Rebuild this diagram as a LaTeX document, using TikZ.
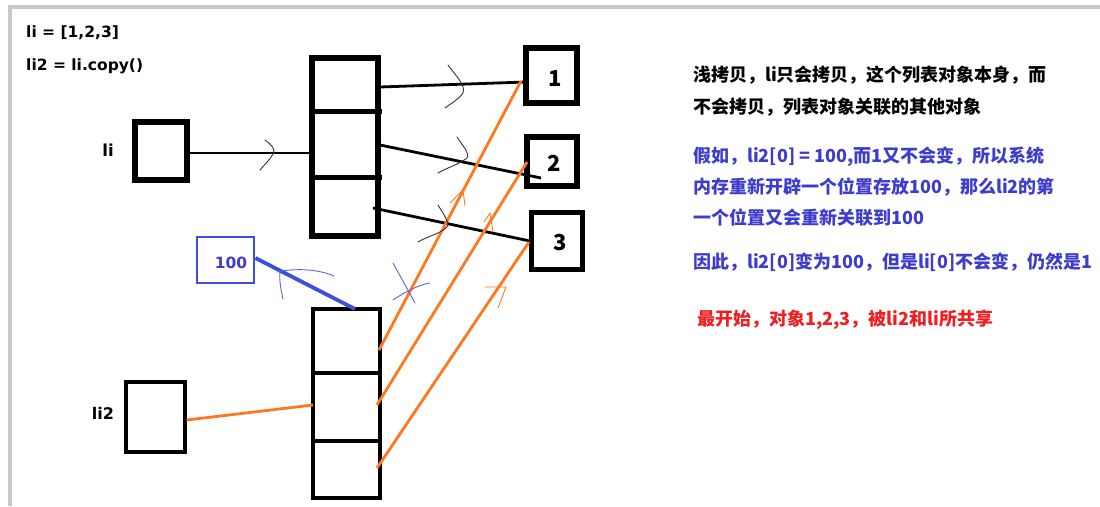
\documentclass[tikz,border=0pt]{standalone}
\usepackage{fontspec}
\setmainfont{Noto Sans CJK SC}
\newfontfamily\latinfont{DejaVu Sans}
\definecolor{frameg}{RGB}{200,200,200}
\definecolor{myblue}{RGB}{60,60,205}
\definecolor{boxblue}{RGB}{60,80,220}
\definecolor{markblue}{RGB}{90,100,230}
\definecolor{myorange}{RGB}{255,120,30}
\definecolor{myred}{RGB}{240,30,30}
\tikzset{
  thickbox/.style={draw=black,line width=5.5pt,inner sep=0pt},
  thinbox/.style={draw=black,line width=3.2pt,inner sep=0pt},
  conn/.style={draw=black,line width=2.8pt},
  oconn/.style={draw=myorange,line width=2.8pt},
  hmark/.style={line width=0.9pt,line cap=round,line join=round},
  txt/.style={font=\bfseries,inner sep=0pt},
  rtxt/.style={inner sep=0pt,anchor=west,font=\bfseries\fontsize{18}{20}\selectfont},
}
\begin{document}
\begin{tikzpicture}[x=1pt,y=-1pt]
\useasboundingbox (0,0) rectangle (1100,506);
% frame
\fill[frameg] (8,5) rectangle (1100,9);
\fill[frameg] (8,5) rectangle (12,506);
% code text
\node[inner sep=0pt,anchor=west,font=\latinfont\bfseries\fontsize{15.5}{17}\selectfont] (code1) at (26,33) {li = [1,2,3]};
\node[inner sep=0pt,anchor=west,font=\latinfont\bfseries\fontsize{15.5}{17}\selectfont] (code2) at (26,66) {li2 = li.copy()};
% li
\node[inner sep=0pt,font=\latinfont\bfseries\fontsize{16.5}{18}\selectfont] (lilab) at (108,150) {li};
\node[thickbox,minimum width=52pt,minimum height=58pt] (libox) at (161,151) {};
% list 1
\node[thickbox,minimum width=66pt,minimum height=178pt] (list1) at (345,147) {};
\draw[line width=5pt] (309,111) -- (382,111);
\draw[line width=5pt] (309,177) -- (382,177);
% objects
\node[thickbox,minimum width=51pt,minimum height=55pt] (o1) at (551.5,75.5) {};
\node[thickbox,minimum width=50pt,minimum height=49pt] (o2) at (552,161.5) {};
\node[thickbox,minimum width=51pt,minimum height=57pt] (o3) at (557,241) {};
\node[txt,font=\bfseries\fontsize{22}{24}\selectfont] (n1) at (555,79) {1};
\node[txt,font=\bfseries\fontsize{22}{24}\selectfont] (n2) at (554,163) {2};
\node[txt,font=\bfseries\fontsize{22}{24}\selectfont] (n3) at (560,243) {3};
% li2
\node[inner sep=0pt,font=\latinfont\bfseries\fontsize{16}{18}\selectfont] (li2lab) at (103,413) {li2};
\node[thinbox,minimum width=59pt,minimum height=70pt] (li2box) at (155.5,417) {};
\node[thinbox,minimum width=67pt,minimum height=189pt] (list2) at (346.5,403.5) {};
\draw[line width=3.2pt] (313,373) -- (382,373);
\draw[line width=3.2pt] (313,441) -- (380,441);
% 100
\node[draw=boxblue,line width=2.8pt,minimum width=57pt,minimum height=46pt,inner sep=0pt] (hbox) at (225.5,260) {};
\node[inner sep=0pt,text=myblue,font=\latinfont\bfseries\fontsize{15.5}{17}\selectfont] (hlab) at (231,263) {100};
% coordinates for connector ends
\coordinate (a1) at (380,87);
\coordinate (a2) at (380,145);
\coordinate (a3) at (373,208);
\coordinate (e1) at (526,82);
\coordinate (e2) at (541,178);
\coordinate (e3) at (530,241);
\coordinate (b1) at (379,350);
\coordinate (b2) at (377,405);
\coordinate (b3) at (377,468);
\coordinate (f1) at (521,81);
\coordinate (f2) at (527,162);
\coordinate (f3) at (529,242);
% black connectors
\draw[conn] ([yshift=-2pt]libox.east) -- ([yshift=-2pt]libox.east -| list1.west);
\draw[conn] (a1) -- (e1);
\draw[conn] (a2) -- (e2);
\draw[conn] (a3) -- (e3);
% blue connector
\draw[draw=boxblue,line width=3.8pt] (hbox.east) ++(0,-2) -- (355,309);
% orange connectors
\draw[oconn] (li2box.east) ++(0,3) -- (313,405);
\draw[oconn] (b1) -- (f1);
\draw[oconn] (b2) -- (f2);
\draw[oconn] (b3) -- (f3);
% hand-drawn marks (black)
\draw[hmark,black!80] (265,140) .. controls (272,145) and (276,150) .. (273,154) .. controls (270,160) and (264,165) .. (260,170);
\draw[hmark,black!80] (448,65) .. controls (455,75) and (466,85) .. (463,93) .. controls (458,100) and (450,104) .. (445,108);
\draw[hmark,black!80] (457,137) .. controls (462,145) and (470,153) .. (467,158) .. controls (458,165) and (446,168) .. (438,173);
\draw[hmark,black!80] (438,205) .. controls (442,212) and (450,222) .. (447,227) .. controls (440,234) and (428,236) .. (418,242);
% hand-drawn marks (blue)
\draw[hmark,markblue] (283,299) .. controls (281,290) and (279,280) .. (280,272);
\draw[hmark,markblue] (277,272) .. controls (295,268) and (318,269) .. (334,276);
\draw[hmark,markblue] (393,263) -- (415,303);
\draw[hmark,markblue] (393,300) .. controls (405,292) and (418,285) .. (430,283);
% hand-drawn marks (orange)
\draw[hmark,myorange] (450,203) -- (463,190) -- (465,206);
\draw[hmark,myorange] (484,222) -- (490,213) -- (493,232);
\draw[hmark,myorange] (485,287) -- (506,287) -- (498,308);
% right texts
\node[rtxt] (t1) at (693,75) {浅拷贝，li只会拷贝，这个列表对象本身，而};
\node[rtxt] (t2) at (693,107) {不会拷贝，列表对象关联的其他对象};
\node[rtxt,text=myblue] (t3) at (693,157) {假如，li2[0] = 100,而1又不会变，所以系统};
\node[rtxt,text=myblue] (t4) at (693,187) {内存重新开辟一个位置存放100，那么li2的第};
\node[rtxt,text=myblue] (t5) at (693,218) {一个位置又会重新关联到100};
\node[rtxt,text=myblue] (t6) at (693,262) {因此，li2[0]变为100，但是li[0]不会变，仍然是1};
\node[rtxt,text=myred] (t7) at (697,320) {最开始，对象1,2,3，被li2和li所共享};
\end{tikzpicture}
\end{document}
